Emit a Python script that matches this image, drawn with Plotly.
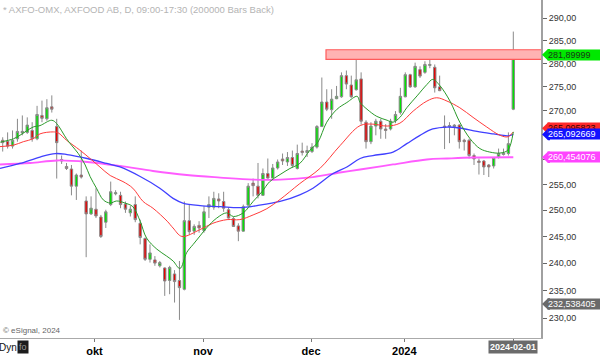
import math
import plotly.graph_objects as go

# ---------------- data ----------------
opens = [263.9, 263.7, 262.7, 264.2, 265.4, 265.5, 265.9, 264.2, 269.0, 268.3,
         270.8, 266.7, 259.7, 258.6, 258.1, 254.7, 256.9, 251.8, 249.3, 250.2,
         248.7, 247.7, 251.1, 253.2, 252.9, 251.2, 249.5, 251.1, 247.5, 244.6,
         240.7, 240.6, 239.5, 239.1, 236.8, 238.0, 236.8, 235.2, 248.0, 246.0,
         247.1, 246.1, 250.6, 250.6, 252.2, 251.7, 250.1, 248.4, 247.0, 246.0,
         251.0, 255.3, 254.7, 252.9, 257.2, 256.3, 258.3, 260.1, 259.5, 260.4,
         258.2, 261.7, 261.4, 261.6, 262.5, 266.7, 271.8, 270.2, 272.5, 272.9,
         277.4, 275.4, 274.4, 276.7, 267.6, 263.6, 266.8, 267.8, 266.2, 266.2,
         267.9, 269.6, 272.9, 277.6, 275.0, 278.7, 278.1, 279.6, 279.2, 275.0,
         266.8, 266.7, 266.7, 267.0, 263.9, 263.9, 260.8, 259.7, 259.7, 258.9,
         258.7, 260.4, 261.0, 261.2, 270.3]
highs = [264.5, 265.5, 265.9, 268.3, 269.0, 268.6, 267.6, 271.0, 272.1, 272.4,
         273.2, 268.3, 260.8, 259.3, 258.9, 257.2, 261.8, 252.7, 252.7, 254.3,
         249.1, 250.1, 255.6, 253.9, 253.6, 251.7, 250.8, 252.7, 248.2, 244.8,
         243.5, 241.3, 240.4, 239.2, 239.5, 238.7, 240.4, 251.7, 251.1, 247.3,
         247.9, 250.8, 252.7, 253.6, 253.3, 253.6, 250.6, 248.7, 247.5, 251.1,
         255.3, 256.2, 259.3, 258.2, 260.2, 259.1, 260.0, 261.2, 261.5, 261.8,
         263.0, 263.4, 262.8, 263.3, 267.0, 277.0, 274.5, 274.5, 275.2, 278.1,
         278.5, 277.4, 281.2, 278.1, 268.0, 267.6, 268.3, 268.3, 267.2, 268.3,
         269.9, 274.8, 278.1, 277.8, 280.2, 279.4, 280.5, 282.2, 279.8, 277.4,
         269.0, 267.6, 267.2, 267.2, 264.2, 264.2, 261.2, 260.2, 259.9, 259.1,
         260.5, 262.2, 262.2, 265.5, 287.0]
lows = [261.6, 262.2, 262.2, 263.6, 264.9, 265.2, 263.6, 263.9, 267.6, 267.9,
        269.6, 256.2, 259.1, 257.9, 252.9, 252.0, 256.2, 241.1, 249.1, 248.5,
        244.7, 246.6, 250.8, 252.9, 250.4, 249.5, 248.8, 247.7, 243.5, 240.4,
        240.1, 239.5, 239.2, 234.0, 234.3, 232.8, 229.7, 235.0, 245.3, 245.3,
        245.7, 245.7, 248.5, 250.1, 250.4, 249.7, 248.4, 246.8, 244.1, 245.9,
        250.8, 252.7, 252.3, 252.8, 256.2, 256.2, 258.0, 258.9, 258.7, 258.3,
        258.0, 260.8, 260.5, 261.3, 262.2, 266.6, 269.9, 268.3, 272.4, 272.7,
        274.5, 272.7, 274.2, 267.1, 262.2, 263.1, 264.9, 264.2, 264.2, 265.9,
        267.4, 269.2, 272.8, 274.8, 274.8, 276.9, 277.8, 279.0, 273.8, 274.1,
        262.1, 263.3, 264.9, 262.2, 261.8, 260.2, 258.9, 257.0, 256.9, 256.5,
        258.2, 260.2, 260.8, 260.8, 270.1]
closes = [263.4, 262.7, 263.9, 265.7, 265.7, 267.0, 264.2, 269.2, 268.4, 270.6,
          270.3, 263.4, 260.0, 258.2, 254.7, 256.9, 256.5, 249.3, 250.4, 248.9,
          245.0, 249.7, 253.6, 253.4, 251.1, 250.2, 250.2, 248.2, 244.8, 240.7,
          241.9, 240.0, 240.1, 236.7, 239.2, 236.6, 235.5, 248.0, 245.9, 246.9,
          246.6, 249.7, 251.1, 252.3, 251.8, 250.4, 248.5, 246.9, 246.0, 250.7,
          254.7, 254.8, 252.9, 257.2, 256.3, 258.3, 259.5, 259.7, 260.4, 258.8,
          261.2, 261.4, 261.8, 262.5, 266.7, 271.8, 270.3, 272.4, 273.0, 277.4,
          275.6, 272.9, 276.5, 267.8, 263.6, 266.8, 267.8, 266.2, 265.9, 267.8,
          269.2, 273.0, 277.6, 275.0, 279.4, 277.3, 279.8, 279.8, 274.8, 274.2,
          266.5, 266.9, 267.0, 263.6, 263.6, 260.8, 260.1, 259.4, 258.5, 258.5,
          260.4, 261.2, 261.3, 263.2, 281.9]
bars = list(range(len(closes)))

# moving-average lines, read at sample positions (bar index, value)
green_x = [-0.5, 2.2, 3.5, 6.2, 7.6, 10, 11, 13, 14, 15.4, 16.8, 17.8, 19.1, 20.5,
           21.9, 23.2, 24.9, 26.5, 28, 29.3, 31.4, 33.4, 34.7, 36.1, 37.5, 38.8,
           40.2, 41.5, 43.6, 45.6, 47, 49, 51, 52.8, 54.4, 56.5, 58.5, 60.5, 62.6,
           64.2, 66, 68.1, 70.1, 72.2, 72.8, 74.2, 76.2, 78.3, 79.5, 80.9, 82.3,
           84.4, 86.4, 87.6, 89.1, 91.1, 93.1, 95.2, 97.2, 99.2, 101.3, 102.9, 104]
green_y = [263.5, 264.2, 264.9, 266.6, 266.9, 268.0, 267.3, 264.2, 262.9, 261.2,
           258.9, 256.6, 254.3, 252.0, 251.4, 251.8, 251.4, 250.7, 247.9, 244.7,
           242.6, 241.3, 240.4, 239.0, 242.0, 243.5, 245.1, 246.6, 248.5, 249.5,
           248.8, 249.5, 251.7, 253.6, 255.6, 257.0, 258.2, 259.2, 261.9, 263.5,
           267.6, 270.3, 271.7, 273.0, 271.7, 270.3, 268.8, 268.0, 267.6, 268.6,
           270.6, 273.1, 275.5, 276.6, 275.2, 272.0, 267.6, 264.2, 262.2, 261.5,
           261.3, 261.9, 265.6]
red_x = [-0.55, 2.2, 4.2, 6.2, 7.6, 10.3, 11.3, 13, 15.7, 17.8, 19.8, 21.9, 24.5,
         26.5, 28.6, 30.6, 33.5, 34.7, 36.5, 40.2, 42.8, 45.7, 48.3, 51, 53.8,
         56.5, 60.5, 64.6, 68.7, 72.8, 75.4, 78.3, 80.9, 83.6, 86.4, 88.4, 90.5,
         93.1, 95.8, 98.6, 101.3, 102.9, 104]
red_y = [262.6, 262.9, 263.6, 264.2, 265.2, 265.6, 265.4, 263.9, 261.9, 260.2,
         258.5, 256.8, 255.6, 254.3, 251.7, 250.4, 247.9, 246.6, 245.0, 246.3,
         247.5, 248.2, 248.2, 249.1, 250.3, 252.1, 255.2, 258.2, 262.8, 266.9,
         267.2, 266.8, 267.4, 269.9, 272.0, 272.7, 272.0, 270.6, 268.6, 266.6,
         264.9, 264.6, 265.6]
blue_x = [-0.55, 3.5, 7.6, 10.7, 13.1, 17.2, 21.2, 23.9, 28, 32, 34.7, 36.7, 40.2,
          44.3, 48.3, 51.8, 56.5, 60.5, 63.2, 67.3, 70.1, 72.8, 75.4, 79.5, 82.3,
          85, 87.6, 90.5, 93.1, 96.6, 99.9, 102.9, 104]
blue_y = [258.2, 259.2, 260.5, 261.2, 261.0, 260.2, 259.2, 258.5, 256.6, 254.3,
          252.3, 251.4, 250.9, 250.7, 250.5, 250.9, 251.7, 253.0, 254.3, 257.2,
          258.5, 260.2, 260.8, 261.5, 263.2, 264.9, 266.2, 266.6, 266.4, 265.7,
          265.2, 264.8, 265.1]
mag_x = [-0.55, 5.6, 11.1, 17.2, 23.9, 30.6, 37.5, 44.3, 51, 56.5, 63.2, 68.7,
         72.8, 79.5, 86.4, 90.5, 95.8, 104]
mag_y = [259.0, 259.3, 259.8, 259.5, 258.7, 257.7, 256.9, 256.4, 256.0, 256.0,
         256.5, 257.4, 258.0, 259.0, 260.0, 260.2, 260.4, 260.45]

# resistance zone
band_low, band_high = 280.9, 283.0
band_start_bar = 65.85

# axis ticks / labels (260 and 265 labels are fully covered by price tags in the original)
y_ticks = [230, 235, 240, 245, 250, 255, 260, 265, 270, 275, 280, 285, 290]
y_hidden = [260, 265]
y_tick_text = ["" if v in y_hidden else f"{v:.2f}".replace(".", ",") for v in y_ticks]
month_labels = ["okt", "nov", "dec", "2024"]
month_bars = [18.7, 40.8, 62.8, 81.8]
last_bar = 104
last_label = "2024-02-01"

# price tags on the right (value, text)
tag_close = (281.89999, "281,89999")
tag_red = (265.095823, "265,095823")
tag_blue = (265.092669, "265,092669")
tag_mag = (260.454076, "260,454076")
tag_gray = (232.538405, "232,538405")

title_text = "* AXFO-OMX, AXFOOD AB, D, 09:00-17:30 (200000 Bars Back)"

FONT = "Liberation Sans, Arial, sans-serif"

# ---------------- figure ----------------
fig = go.Figure()

fig.add_trace(go.Scatter(x=mag_x, y=mag_y, mode="lines", line=dict(color="#ff5cff", width=1.8, shape="spline"), hoverinfo="skip"))
fig.add_trace(go.Scatter(x=blue_x, y=blue_y, mode="lines", line=dict(color="#4040ff", width=1.3, shape="spline"), hoverinfo="skip"))
fig.add_trace(go.Scatter(x=red_x, y=red_y, mode="lines", line=dict(color="#ff3b3b", width=1, shape="spline"), hoverinfo="skip"))
fig.add_trace(go.Scatter(x=green_x, y=green_y, mode="lines", line=dict(color="#2a9a2a", width=1, shape="spline"), hoverinfo="skip"))

fig.add_trace(go.Candlestick(
    x=bars, open=opens, high=highs, low=lows, close=closes,
    increasing=dict(line=dict(color="#8a8a8a", width=1), fillcolor="#00e400"),
    decreasing=dict(line=dict(color="#8a8a8a", width=1), fillcolor="#e40000"),
    whiskerwidth=0, hoverinfo="skip",
))

shapes = []
annotations = []

shapes.append(dict(type="rect", xref="x", yref="y", x0=band_start_bar, x1=115,
                   y0=band_low, y1=band_high, fillcolor="#ffb3b3",
                   line=dict(color="#ff5a5a", width=1.2), layer="above"))


def add_tag(val, text, bg, fg, dy=0):
    h = 5.8
    shapes.append(dict(type="path", xref="paper", yref="y", xsizemode="pixel",
                       ysizemode="pixel", xanchor=1, yanchor=val,
                       path=f"M 1 {dy} L 7 {dy + h} L 9 {dy + h} L 9 {dy - h} L 7 {dy - h} Z",
                       fillcolor=bg, line=dict(width=0), layer="above"))
    annotations.append(dict(xref="paper", yref="y", x=1, y=math.log10(val),
                            xanchor="left", yanchor="middle", xshift=6, yshift=dy,
                            text=text, showarrow=False, width=54, align="left",
                            bgcolor=bg, borderpad=0,
                            font=dict(size=9, color=fg, family=FONT)))


add_tag(tag_close[0], tag_close[1], "#00e800", "#183818")
add_tag(tag_red[0], tag_red[1], "#ff2a2a", "#3a0000", dy=6)
add_tag(tag_blue[0], tag_blue[1], "#1212ff", "#ffffff")
add_tag(tag_mag[0], tag_mag[1], "#ff44ff", "#ffffff")
add_tag(tag_gray[0], tag_gray[1], "#6a6a6a", "#ffffff")

annotations.append(dict(xref="paper", yref="paper", x=0, y=1, xanchor="left", yanchor="top",
                        xshift=1, yshift=-2, text=title_text, showarrow=False,
                        font=dict(size=9.5, color="#b4b4b4", family=FONT)))
annotations.append(dict(xref="paper", yref="paper", x=0, y=0, xanchor="left", yanchor="bottom",
                        xshift=1, yshift=1, text="© eSignal, 2024", showarrow=False,
                        font=dict(size=8, color="#666666", family=FONT)))
annotations.append(dict(xref="paper", yref="paper", x=0, y=0, xanchor="left", yanchor="top",
                        xshift=-3, yshift=-2, text="Dyn", showarrow=False,
                        font=dict(size=10, color="#111111", family=FONT)))
annotations.append(dict(xref="paper", yref="paper", x=0, y=0, xanchor="left", yanchor="top",
                        xshift=17, yshift=-2, text="fo", showarrow=False, bgcolor="#1c1c1c",
                        borderpad=1, font=dict(size=9, color="#9a9a9a", family=FONT)))
annotations.append(dict(xref="x", yref="paper", x=last_bar, y=0, xanchor="center", yanchor="top",
                        yshift=-2, text=f"<b>{last_label}</b>", showarrow=False, bgcolor="#6b6b6b",
                        borderpad=1, font=dict(size=9, color="#ffffff", family=FONT)))

fig.update_layout(
    width=600, height=357,
    margin=dict(l=0, r=59, t=0, b=16),
    paper_bgcolor="white", plot_bgcolor="white",
    showlegend=False, hovermode=False,
    shapes=shapes, annotations=annotations,
    font=dict(family=FONT),
    xaxis=dict(
        range=[-0.55, 109.64], rangeslider=dict(visible=False),
        showgrid=False, zeroline=False, showline=True, linecolor="#aaaaaa", linewidth=1,
        tickvals=month_bars + [last_bar],
        ticktext=[f"<b>{m}</b>" for m in month_labels] + [""],
        ticks="outside", ticklen=3, tickcolor="#777777",
        tickfont=dict(size=11, color="#000000", family=FONT),
    ),
    yaxis=dict(
        type="log", side="right",
        range=[math.log10(226.51), math.log10(294.09)],
        showgrid=False, zeroline=False, showline=True, linecolor="#a0a0a0", linewidth=2,
        tickvals=y_ticks, ticktext=y_tick_text,
        ticks="outside", ticklen=4, tickcolor="#666666",
        tickfont=dict(size=9, color="#333333", family=FONT),
    ),
)

fig.write_html("out.html", config={"displayModeBar": False},
               post_script="document.body.style.margin='0';")
